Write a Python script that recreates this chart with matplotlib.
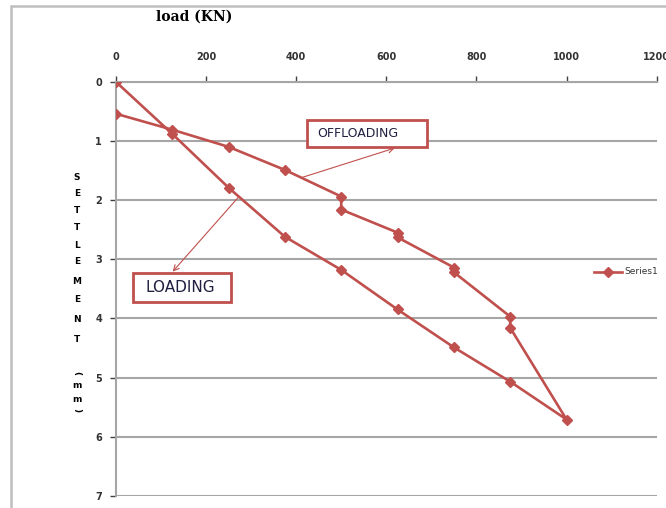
import matplotlib.pyplot as plt
from matplotlib.lines import Line2D
from matplotlib.patches import Rectangle

# load (KN) and settlement (mm), loading then offloading in one series
load = [0, 125, 250, 375, 500, 625, 750, 875, 1000,
        875, 875, 750, 750, 625, 625, 500, 500, 375, 250, 125, 0]
settlement = [0, 0.88, 1.79, 2.62, 3.18, 3.85, 4.49, 5.07, 5.71,
              4.16, 3.97, 3.22, 3.14, 2.63, 2.55, 2.16, 1.94, 1.49, 1.10, 0.81, 0.54]

x_ticks = [0, 200, 400, 600, 800, 1000, 1200]
y_ticks = [0, 1, 2, 3, 4, 5, 6, 7]

red = '#C0504D'
grid_gray = '#A6A6A6'

fig = plt.figure(figsize=(6.66, 5.08), dpi=100)
ax = fig.add_axes([0.174, 0.024, 0.812, 0.815])

ax.plot(load, settlement, color=red, lw=1.9, marker='D', markersize=5.5,
        markeredgecolor=red, markerfacecolor=red, zorder=3)

ax.set_xlim(0, 1200)
ax.set_ylim(7, 0)
ax.xaxis.tick_top()
ax.set_xticks(x_ticks)
ax.set_yticks(y_ticks)
ax.tick_params(axis='both', labelsize=7, colors='#404040', length=4, width=1)
ax.tick_params(axis='x', pad=10)
ax.tick_params(axis='y', pad=6)
for lab in ax.get_xticklabels() + ax.get_yticklabels():
    lab.set_fontweight('bold')
    lab.set_color('#333333')

ax.yaxis.grid(True, color=grid_gray, lw=1.5)
ax.set_axisbelow(True)
for side in ['right', 'bottom']:
    ax.spines[side].set_visible(False)
for side in ['top', 'left']:
    ax.spines[side].set_color(grid_gray)
    ax.spines[side].set_linewidth(1.5)

# annotation boxes with thin arrows from the curve
ax.add_patch(Rectangle((424, 0.64), 266, 0.46, fc='white', ec=red, lw=2, zorder=5))
ax.text(537, 0.87, 'OFFLOADING', fontsize=9, ha='center', va='center',
        color='#1F1F3F', zorder=6)
ax.add_patch(Rectangle((38, 3.23), 217, 0.49, fc='white', ec=red, lw=2, zorder=5))
ax.text(142, 3.48, 'LOADING', fontsize=11, ha='center', va='center',
        color='#1F1F3F', zorder=6)
arrow = dict(arrowstyle='->', color=red, lw=0.8, shrinkA=0, shrinkB=0)
ax.annotate('', xy=(619, 1.12), xytext=(412, 1.62), arrowprops=arrow, zorder=4)
ax.annotate('', xy=(126, 3.21), xytext=(272, 1.95), arrowprops=arrow, zorder=4)

# x-axis title above the tick labels
fig.text(194 / 666, 1 - 17 / 508, 'load (KN)', fontsize=10, fontweight='bold',
         family='DejaVu Serif', ha='center', va='center')

# stacked y-axis title
letters = ['S', 'E', 'T', 'T', 'L', 'E', 'M', 'E', 'N', 'T']
ys = [178, 193, 211, 228, 245, 262, 281, 300, 320, 340]
for ch, yp in zip(letters, ys):
    fig.text(77 / 666, 1 - yp / 508, ch, fontsize=6.5, fontweight='bold',
             ha='center', va='center')
fig.text(77 / 666, 1 - 373 / 508, '(', fontsize=6.5, fontweight='bold',
         ha='center', va='center', rotation=-90)
fig.text(77 / 666, 1 - 386 / 508, 'm', fontsize=6.5, fontweight='bold',
         ha='center', va='center')
fig.text(77 / 666, 1 - 400 / 508, 'm', fontsize=6.5, fontweight='bold',
         ha='center', va='center')
fig.text(77 / 666, 1 - 410 / 508, ')', fontsize=6.5, fontweight='bold',
         ha='center', va='center', rotation=-90)

# legend entry
fig.add_artist(Line2D([594 / 666, 622 / 666], [1 - 272 / 508] * 2, color=red,
                      lw=1.9, transform=fig.transFigure))
fig.add_artist(Line2D([608 / 666], [1 - 272 / 508], color=red, marker='D',
                      markersize=5, transform=fig.transFigure))
fig.text(624 / 666, 1 - 272 / 508, 'Series1', fontsize=6.5, ha='left',
         va='center', color='#333333')

# chart border
fig.add_artist(Rectangle((11 / 666, -0.01), 1.0, 1 - 6 / 508 + 0.01,
                         transform=fig.transFigure, fill=False,
                         ec='#BFBFBF', lw=1.8))

fig.savefig('out.png', dpi=100)
